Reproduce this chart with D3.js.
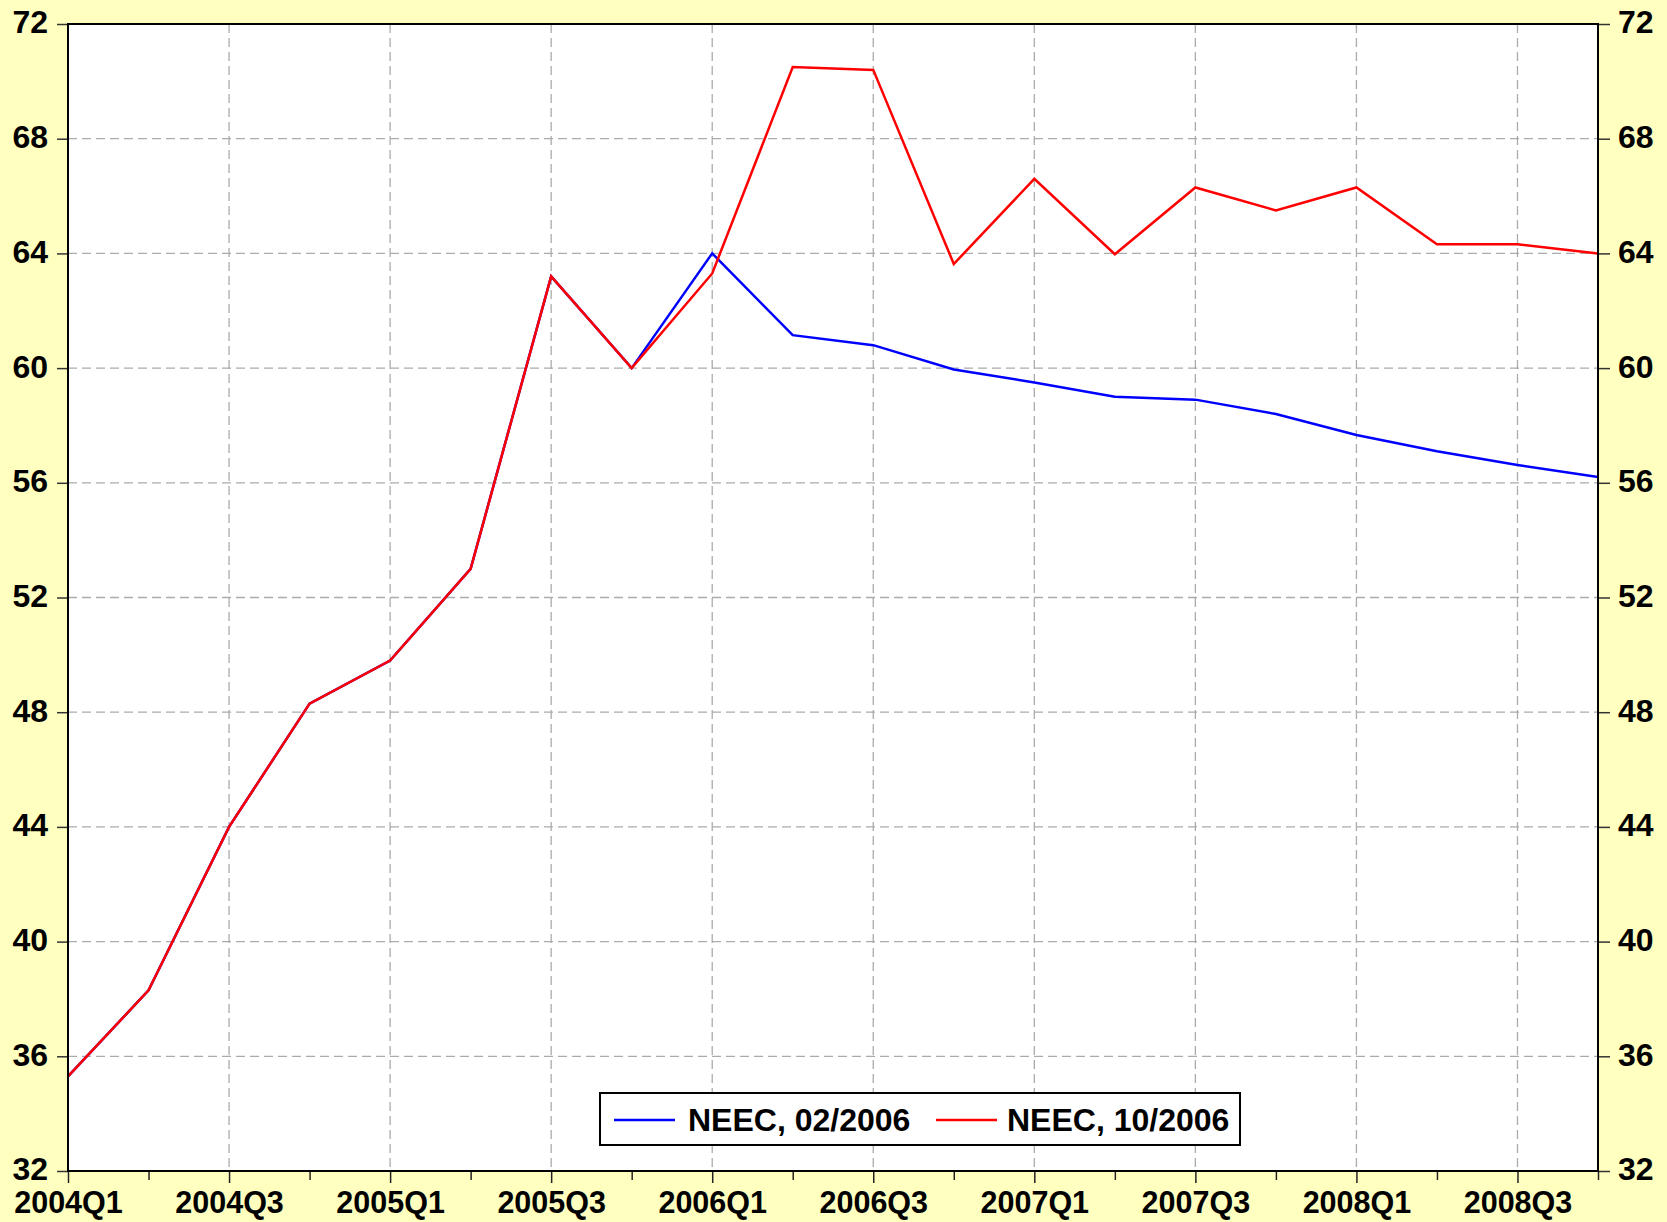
<!DOCTYPE html>
<html>
<head>
<meta charset="utf-8">
<script src="https://cdn.jsdelivr.net/npm/d3@7"></script>
<style>
  html, body { margin: 0; padding: 0; background: #FFFFC0; }
  svg { display: block; }
  text { font-family: "Liberation Sans", Arial, sans-serif; font-weight: bold; fill: #000; }
</style>
</head>
<body>
<svg id="chart" width="1667" height="1222"></svg>
<script>
const quarters = ["2004Q1","2004Q2","2004Q3","2004Q4","2005Q1","2005Q2","2005Q3","2005Q4",
                  "2006Q1","2006Q2","2006Q3","2006Q4","2007Q1","2007Q2","2007Q3","2007Q4",
                  "2008Q1","2008Q2","2008Q3","2008Q4"];
const neecFeb2006 = [35.3, 38.3, 44.0, 48.3, 49.8, 53.0, 63.2, 60.0,
                     64.0, 61.15, 60.8, 59.95, 59.5, 59.0, 58.9, 58.4,
                     57.67, 57.1, 56.62, 56.2];
const neecOct2006 = [35.3, 38.3, 44.0, 48.3, 49.8, 53.0, 63.2, 60.0,
                     63.3, 70.5, 70.4, 63.63, 66.6, 63.97, 66.3, 65.5,
                     66.3, 64.32, 64.32, 64.0];
const seriesNames = ["NEEC, 02/2006", "NEEC, 10/2006"];
const seriesColors = ["#0000FF", "#FF0000"];
const yTicks = [32, 36, 40, 44, 48, 52, 56, 60, 64, 68, 72];
const xLabelTicks = ["2004Q1","2004Q3","2005Q1","2005Q3","2006Q1","2006Q3","2007Q1","2007Q3","2008Q1","2008Q3"];

const L = 68, R = 1598, T = 24, B = 1171;
const svg = d3.select("#chart");

const x = d3.scalePoint().domain(quarters).range([L, R]);
const y = d3.scaleLinear().domain([32, 72]).range([B, T]);

// plot background
svg.append("rect").attr("x", L).attr("y", T).attr("width", R - L).attr("height", B - T).attr("fill", "#fff");

// grid
const grid = svg.append("g").attr("stroke", "#ababab").attr("stroke-width", 1.3).attr("stroke-dasharray", "9,5");
grid.selectAll("line.h").data(yTicks).enter().append("line")
  .attr("x1", L).attr("x2", R).attr("y1", d => y(d)).attr("y2", d => y(d));
grid.selectAll("line.v").data(xLabelTicks.slice(1)).enter().append("line")
  .attr("x1", d => x(d)).attr("x2", d => x(d)).attr("y1", T).attr("y2", B);

// left axis
const yLeft = d3.axisLeft(y).tickValues(yTicks).tickSize(11).tickPadding(9).tickFormat(d3.format("d"));
const gl = svg.append("g").attr("transform", `translate(${L},0)`).call(yLeft);
gl.select(".domain").remove();
gl.selectAll(".tick line").attr("stroke", "#333").attr("stroke-width", 1.5);
gl.selectAll(".tick text").attr("font-size", 32).attr("dy", "0.28em")
  .style("font-family", "'Liberation Sans', Arial, sans-serif").style("font-weight", "bold");

// right axis
const yRight = d3.axisRight(y).tickValues(yTicks).tickSize(12).tickPadding(8).tickFormat(d3.format("d"));
const gr = svg.append("g").attr("transform", `translate(${R},0)`).call(yRight);
gr.select(".domain").remove();
gr.selectAll(".tick line").attr("stroke", "#333").attr("stroke-width", 1.5);
gr.selectAll(".tick text").attr("font-size", 32).attr("dy", "0.28em")
  .style("font-family", "'Liberation Sans', Arial, sans-serif").style("font-weight", "bold");

// bottom axis
const xAxis = d3.axisBottom(x).tickValues(quarters)
  .tickSize(12).tickPadding(8)
  .tickFormat(d => xLabelTicks.includes(d) ? d : "");
const gx = svg.append("g").attr("transform", `translate(0,${B})`).call(xAxis);
gx.select(".domain").remove();
gx.selectAll(".tick line").attr("stroke", "#222").attr("stroke-width", 1.5)
  .attr("y2", d => xLabelTicks.includes(d) ? 12 : 9);
gx.selectAll(".tick text").attr("font-size", 30.5)
  .style("font-family", "'Liberation Sans', Arial, sans-serif").style("font-weight", "bold");

// lines
const line = d3.line().x((d, i) => x(quarters[i])).y(d => y(d));
[neecFeb2006, neecOct2006].forEach((s, k) => {
  svg.append("path").datum(s).attr("d", line).attr("fill", "none")
    .attr("stroke", seriesColors[k]).attr("stroke-width", 2.5).attr("stroke-linejoin", "miter");
});

// frame
svg.append("rect").attr("x", L).attr("y", T).attr("width", R - L).attr("height", B - T)
  .attr("fill", "none").attr("stroke", "#000").attr("stroke-width", 2);

// legend
const lg = svg.append("g");
lg.append("rect").attr("x", 600).attr("y", 1093).attr("width", 640).attr("height", 52)
  .attr("fill", "#fff").attr("stroke", "#000").attr("stroke-width", 2);
const legendItems = [{x1: 614, tx: 688}, {x1: 936, tx: 1007}];
legendItems.forEach((it, k) => {
  lg.append("line").attr("x1", it.x1).attr("x2", it.x1 + 61).attr("y1", 1120).attr("y2", 1120)
    .attr("stroke", seriesColors[k]).attr("stroke-width", 2.5);
  lg.append("text").attr("x", it.tx).attr("y", 1131).attr("font-size", 32).text(seriesNames[k]);
});
</script>
</body>
</html>
